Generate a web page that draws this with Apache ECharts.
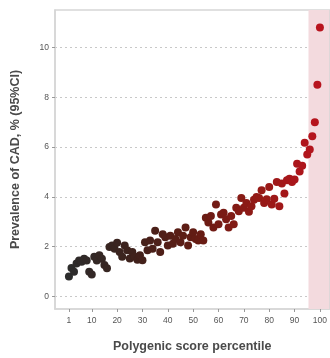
<!DOCTYPE html>
<html>
<head>
<meta charset="utf-8">
<script src="https://cdn.jsdelivr.net/npm/echarts@6/dist/echarts.min.js"></script>
<style>
html,body{margin:0;padding:0;background:#fff;}
#c{width:330px;height:358px;}
</style>
</head>
<body>
<div id="c"></div>
<script>
// Data
const percentiles = Array.from({length: 100}, (_, i) => i + 1);
const prevalence = [
  0.80, 1.15, 1.00, 1.33, 1.45, 1.40, 1.52, 1.45, 1.00, 0.88,
  1.60, 1.45, 1.66, 1.52, 1.27, 1.14, 1.99, 2.05, 1.92, 2.16,
  1.79, 1.60, 2.05, 1.86, 1.53, 1.79, 1.60, 1.48, 1.66, 1.46,
  2.18, 1.86, 2.25, 1.92, 2.64, 2.18, 1.79, 2.50, 2.38, 2.05,
  2.44, 2.12, 2.31, 2.58, 2.18, 2.44, 2.77, 2.05, 2.38, 2.58,
  2.31, 2.25, 2.50, 2.25, 3.16, 2.97, 3.23, 2.77, 3.69, 2.90,
  3.29, 3.36, 3.10, 2.77, 3.23, 2.90, 3.56, 3.42, 3.95, 3.56,
  3.75, 3.40, 3.62, 3.88, 4.00, 3.95, 4.27, 3.75, 3.90, 4.40,
  3.69, 3.92, 4.60, 3.62, 4.54, 4.14, 4.67, 4.73, 4.60, 4.70,
  5.33, 5.02, 5.25, 6.17, 5.70, 5.90, 6.43, 7.00, 8.50, 10.80
];
const xTickLabels = [1, 10, 20, 30, 40, 50, 60, 70, 80, 90, 100];
const yTickLabels = [0, 2, 4, 6, 8, 10];
const highlightRange = [95.5, 103.7];

const points = percentiles.map((p, i) => [p, prevalence[i]]);

const chart = echarts.init(document.getElementById('c'), null, {renderer: 'canvas'});
const axisTextColor = '#555';
chart.setOption({
  animation: false,
  backgroundColor: '#fff',
  grid: {left: 55, right: 0, top: 10, bottom: 41, show: true, borderColor: '#d6d6d6', borderWidth: 1.5, containLabel: false},
  xAxis: {
    type: 'value', min: -4.5, max: 103.7,
    name: 'Polygenic score percentile', nameLocation: 'middle', nameGap: 31,
    nameTextStyle: {fontFamily: 'Liberation Sans', fontWeight: 'bold', fontSize: 12.5, color: '#4a4a4a'},
    axisLine: {show: true, onZero: false, lineStyle: {color: '#d6d6d6', width: 1.5}},
    axisTick: {show: true, customValues: xTickLabels, length: 3, lineStyle: {color: '#999'}},
    axisLabel: {customValues: xTickLabels, fontFamily: 'Liberation Sans', fontSize: 8.5, color: axisTextColor, margin: 7},
    splitLine: {show: false}
  },
  yAxis: {
    type: 'value', min: -0.5, max: 11.5,
    name: 'Prevalence of CAD, % (95%CI)', nameLocation: 'middle', nameGap: 33, nameRotate: 90,
    nameTextStyle: {fontFamily: 'Liberation Sans', fontWeight: 'bold', fontSize: 12.5, color: '#4a4a4a'},
    axisLine: {show: true, onZero: false, lineStyle: {color: '#d6d6d6', width: 1.5}},
    axisTick: {show: true, customValues: yTickLabels, length: 3, lineStyle: {color: '#999'}},
    axisLabel: {customValues: yTickLabels, fontFamily: 'Liberation Sans', fontSize: 8.5, color: axisTextColor, margin: 6},
    splitLine: {show: true, lineStyle: {color: '#c8c8c8', type: [2, 3], width: 1.2}}
  },
  visualMap: {
    show: false, type: 'continuous', dimension: 0, min: 1, max: 100, seriesIndex: 1,
    inRange: {color: ['#2c2c2c', '#3e221c', '#621c14', '#931a16', '#b8141e']}
  },
  series: [
    {
      type: 'line', data: [], z: 1, silent: true,
      markArea: {
        silent: true,
        itemStyle: {color: '#f3dade'},
        data: [[{xAxis: highlightRange[0]}, {xAxis: highlightRange[1]}]]
      }
    },
    {
      type: 'scatter', z: 3,
      symbolSize: 8,
      itemStyle: {opacity: 1},
      data: points
    }
  ]
});
</script>
</body>
</html>
